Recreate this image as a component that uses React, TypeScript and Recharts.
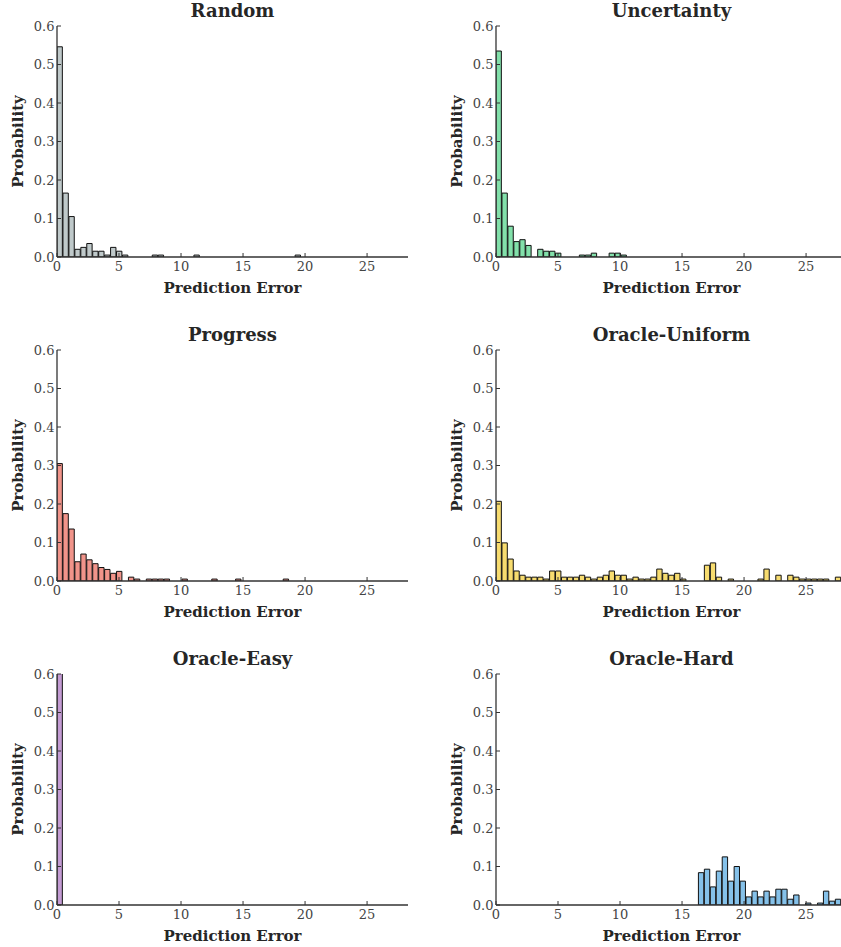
import React from 'react';
import { Bar, BarChart, XAxis, YAxis } from 'recharts';

// histogram bins: 58 bins of equal width starting at 0
const BIN_WIDTH = 0.48;
const X_MAX = 28.3;
const X_TICKS = [0, 5, 10, 15, 20, 25];
const Y_TICKS = [0, 0.1, 0.2, 0.3, 0.4, 0.5, 0.6];

const RANDOM = [
  0.546, 0.166, 0.105, 0.02, 0.025, 0.035, 0.015, 0.015, 0.005, 0.025,
  0.015, 0.005, 0, 0, 0, 0, 0.005, 0.005, 0, 0,
  0, 0, 0, 0.005, 0, 0, 0, 0, 0, 0,
  0, 0, 0, 0, 0, 0, 0, 0, 0, 0,
  0.005, 0, 0, 0, 0, 0, 0, 0, 0, 0,
  0, 0, 0, 0, 0, 0, 0, 0,
];

const UNCERTAINTY = [
  0.535, 0.166, 0.08, 0.04, 0.045, 0.03, 0, 0.02, 0.015, 0.015,
  0.01, 0, 0, 0, 0.005, 0.005, 0.01, 0, 0, 0.01,
  0.01, 0.005, 0, 0, 0, 0, 0, 0, 0, 0,
  0, 0, 0, 0, 0, 0, 0, 0, 0, 0,
  0, 0, 0, 0, 0, 0, 0, 0, 0, 0,
  0, 0, 0, 0, 0, 0, 0, 0,
];

const PROGRESS = [
  0.305, 0.175, 0.135, 0.05, 0.07, 0.055, 0.045, 0.035, 0.03, 0.02,
  0.025, 0, 0.01, 0.005, 0, 0.005, 0.005, 0.005, 0.005, 0,
  0, 0.005, 0, 0, 0, 0, 0.005, 0, 0, 0,
  0.005, 0, 0, 0, 0, 0, 0, 0, 0.005, 0,
  0, 0, 0, 0, 0, 0, 0, 0, 0, 0,
  0, 0, 0, 0, 0, 0, 0, 0,
];

const ORACLE_UNIFORM = [
  0.207, 0.099, 0.057, 0.026, 0.015, 0.01, 0.01, 0.01, 0.005, 0.026,
  0.026, 0.01, 0.01, 0.01, 0.015, 0.01, 0.005, 0.01, 0.015, 0.026,
  0.015, 0.015, 0.005, 0.01, 0.005, 0.005, 0.01, 0.031, 0.02, 0.015,
  0.02, 0.005, 0, 0, 0, 0.041, 0.047, 0.01, 0, 0.005,
  0, 0, 0, 0, 0.005, 0.031, 0, 0.015, 0, 0.015,
  0.01, 0.005, 0.005, 0.005, 0.005, 0.005, 0, 0.01,
];

const ORACLE_EASY = [
  1.0, 0, 0, 0, 0, 0, 0, 0, 0, 0,
  0, 0, 0, 0, 0, 0, 0, 0, 0, 0,
  0, 0, 0, 0, 0, 0, 0, 0, 0, 0,
  0, 0, 0, 0, 0, 0, 0, 0, 0, 0,
  0, 0, 0, 0, 0, 0, 0, 0, 0, 0,
  0, 0, 0, 0, 0, 0, 0, 0,
];

const ORACLE_HARD = [
  0, 0, 0, 0, 0, 0, 0, 0, 0, 0,
  0, 0, 0, 0, 0, 0, 0, 0, 0, 0,
  0, 0, 0, 0, 0, 0, 0, 0, 0, 0,
  0, 0, 0, 0, 0.084, 0.093, 0.047, 0.088, 0.125, 0.062,
  0.1, 0.062, 0.021, 0.036, 0.021, 0.036, 0.021, 0.041, 0.041, 0.015,
  0.026, 0, 0.005, 0, 0.005, 0.036, 0.01, 0.015,
];

const PANELS = [
  { title: 'Random', values: RANDOM, color: '#bfc9ca' },
  { title: 'Uncertainty', values: UNCERTAINTY, color: '#82e0aa' },
  { title: 'Progress', values: PROGRESS, color: '#f1948a' },
  { title: 'Oracle-Uniform', values: ORACLE_UNIFORM, color: '#f7dc6f' },
  { title: 'Oracle-Easy', values: ORACLE_EASY, color: '#c39bd3' },
  { title: 'Oracle-Hard', values: ORACLE_HARD, color: '#85c1e9' },
];

const FONT = "'DejaVu Serif', serif";
const PLOT_W = 351;
const PLOT_H = 231;
const Y_AXIS_W = 57;
const X_AXIS_H = 45;
const TOP_PAD = 10;
const COL_LEFT = [0, 439];
const ROW_TOP = [26, 350, 674];

function Histogram({ title, values, color, left, top }) {
  const rows = values.map((p, i) => ({ x: (i + 0.5) * BIN_WIDTH, p }));
  const barPx = (PLOT_W * BIN_WIDTH) / X_MAX;
  return (
    <div style={{ position: 'absolute', left, top: top - TOP_PAD }}>
      <div
        style={{
          position: 'absolute',
          left: Y_AXIS_W,
          top: TOP_PAD - 25,
          width: PLOT_W,
          textAlign: 'center',
          fontFamily: FONT,
          fontWeight: 'bold',
          fontSize: 18,
          lineHeight: '20px',
          color: '#262626',
        }}
      >
        {title}
      </div>
      <BarChart
        width={Y_AXIS_W + PLOT_W}
        height={TOP_PAD + PLOT_H + X_AXIS_H}
        data={rows}
        margin={{ top: TOP_PAD, right: 0, bottom: 0, left: 0 }}
        barGap={0}
        barCategoryGap={0}
      >
        <XAxis
          type="number"
          dataKey="x"
          domain={[0, X_MAX]}
          ticks={X_TICKS}
          allowDataOverflow
          height={X_AXIS_H}
          tickSize={-4}
          tickMargin={9}
          interval={0}
          axisLine={{ stroke: '#333', strokeWidth: 1.3 }}
          tickLine={{ stroke: '#333' }}
          tick={{ fill: '#444', fontSize: 13, fontFamily: FONT }}
          label={{
            value: 'Prediction Error',
            position: 'insideBottom',
            offset: 9,
            style: { fontFamily: FONT, fontWeight: 'bold', fontSize: 15, fill: '#262626' },
          }}
        />
        <YAxis
          type="number"
          domain={[0, 0.6]}
          ticks={Y_TICKS}
          allowDataOverflow
          width={Y_AXIS_W}
          tickSize={-4}
          tickMargin={6.5}
          interval={0}
          tickFormatter={(v) => v.toFixed(1)}
          axisLine={{ stroke: '#333', strokeWidth: 1.3 }}
          tickLine={{ stroke: '#333' }}
          tick={{ fill: '#444', fontSize: 13, fontFamily: FONT }}
          label={{
            value: 'Probability',
            angle: -90,
            position: 'insideLeft',
            offset: 18,
            style: { textAnchor: 'middle', fontFamily: FONT, fontWeight: 'bold', fontSize: 15, fill: '#262626' },
          }}
        />
        <Bar
          dataKey="p"
          fill={color}
          stroke="#111"
          strokeWidth={1}
          barSize={barPx}
          isAnimationActive={false}
        />
      </BarChart>
    </div>
  );
}

export default function App() {
  return (
    <div
      style={{
        position: 'absolute',
        left: 0,
        top: 0,
        width: 841,
        height: 947,
        overflow: 'hidden',
        background: '#fff',
      }}
    >
      {PANELS.map((panel, i) => (
        <Histogram
          key={panel.title}
          {...panel}
          left={COL_LEFT[i % 2]}
          top={ROW_TOP[Math.floor(i / 2)]}
        />
      ))}
    </div>
  );
}
